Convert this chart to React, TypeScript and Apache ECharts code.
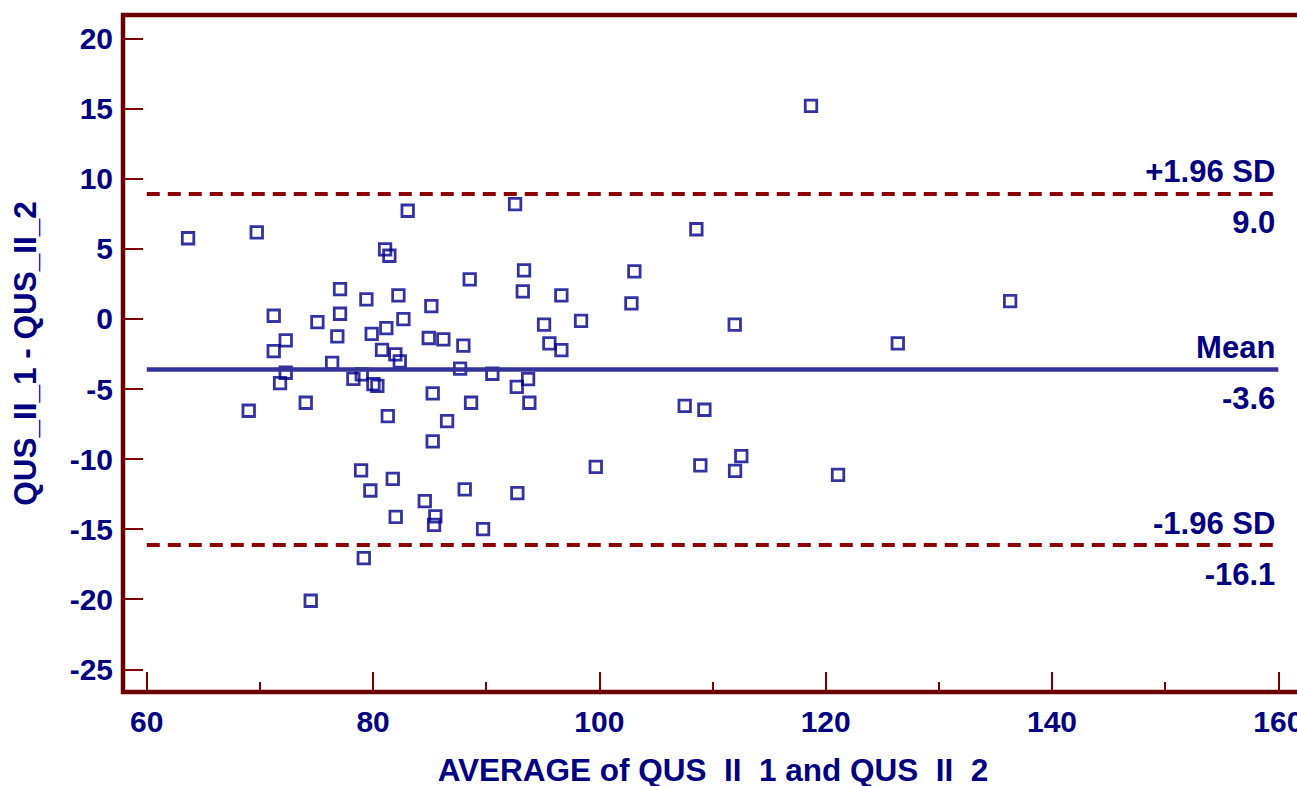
import React, { useEffect, useRef } from "react";
import * as echarts from "echarts";

// Bland-Altman data: [average, difference]
const averages: number[] = [
  63.65, 69.72, 69.01, 71.22, 71.22, 72.28, 71.78, 72.28, 74.05, 75.08,
  76.38, 76.84, 77.08, 77.08, 78.26, 79.0, 79.41, 79.88, 80.03, 80.38,
  80.79, 81.06, 81.44, 81.17, 81.3, 81.97, 82.36, 82.24, 82.68, 83.06,
  84.92, 85.15, 85.27, 86.21, 86.54, 87.69, 87.98, 88.54, 88.66, 85.27,
  78.94, 81.74, 79.76, 88.1, 92.75, 84.57, 82.0, 85.5, 85.39, 89.72,
  79.18, 74.49, 92.55, 93.34, 93.23, 103.09, 102.83, 96.64, 95.11, 98.38,
  95.58, 96.64, 90.54, 93.7, 92.7, 93.81, 99.68, 108.57, 111.96, 126.37,
  107.54, 109.28, 108.92, 112.54, 111.99, 121.09, 118.7, 136.3,
];
const differences: number[] = [
  5.76, 6.18, -6.55, 0.23, -2.29, -1.53, -4.58, -3.84, -5.98, -0.22,
  -3.13, -1.24, 2.13, 0.37, -4.27, -3.95, 1.4, -1.06, -4.65, -4.77,
  -2.2, 4.97, 4.51, -0.65, -6.93, -2.53, -3.03, 1.68, -0.01, 7.72,
  -1.36, 0.92, -5.31, -1.46, -7.29, -3.55, -1.91, 2.83, -5.98, -8.74,
  -10.81, -11.41, -12.24, -12.16, -12.43, -13.0, -14.12, -14.09, -14.69, -15.0,
  -17.07, -20.11, 8.2, 3.47, 1.97, 3.4, 1.11, 1.68, -0.41, -0.13,
  -1.74, -2.22, -3.91, -4.29, -4.84, -5.98, -10.55, 6.4, -0.41, -1.74,
  -6.2, -6.48, -10.45, -9.79, -10.84, -11.12, 15.2, 1.27,
];

const limitValues: number[] = [8.96, -3.57, -16.1];
const limitNames: string[] = ["+1.96 SD", "Mean", "-1.96 SD"];
const limitTexts: string[] = ["9.0", "-3.6", "-16.1"];
const lineStart = 60;
const lineEnd = 160;

const xLabelValues: number[] = [60, 80, 100, 120, 140, 160];
const xMinorValues: number[] = [70, 90, 110, 130, 150];
const yTickValues: number[] = [-25, -20, -15, -10, -5, 0, 5, 10, 15, 20];

const NAVY = "#000080";
const FONT = "'Liberation Sans', Arial, sans-serif";

export default function App() {
  const ref = useRef<HTMLDivElement>(null);
  useEffect(() => {
    if (!ref.current) return;
    const chart = echarts.init(ref.current, null, { renderer: "svg" });

    const labelFont = {
      color: NAVY,
      fontSize: 30,
      fontWeight: "bold",
      fontFamily: FONT,
    };
    const titleFont = { ...labelFont, fontSize: 31.5 };
    const limitFont = { ...labelFont, fontSize: 31 };

    const markData: any[] = [];
    limitValues.forEach((v, i) => {
      const isMean = i === 1;
      const ls = isMean
        ? { type: "solid", color: "#333399", width: 4.5 }
        : { type: [13, 8], color: "#8b0000", width: 4 };
      markData.push([
        {
          coord: [lineStart, v],
          lineStyle: ls,
          label: {
            show: true,
            formatter: limitNames[i],
            position: "insideEndTop",
            distance: [3, 6],
            ...limitFont,
          },
        },
        { coord: [lineEnd, v] },
      ]);
      markData.push([
        {
          coord: [lineStart, v],
          lineStyle: { type: "solid", color: "rgba(0,0,0,0)", width: 0 },
          label: {
            show: true,
            formatter: limitTexts[i],
            position: "insideEndBottom",
            distance: [3, 14],
            ...limitFont,
          },
        },
        { coord: [lineEnd, v] },
      ]);
    });

    const option: any = {
      animation: false,
      backgroundColor: "#ffffff",
      grid: {
        left: 123,
        top: 15,
        width: 1180,
        bottom: 94,
        show: true,
        borderColor: "#6b0000",
        borderWidth: 4.5,
        backgroundColor: "transparent",
        containLabel: false,
        outerBoundsMode: "none",
      },
      xAxis: [
        {
          type: "value",
          min: 57.9,
          max: 162.18,
          position: "bottom",
          axisLine: { show: false, onZero: false },
          splitLine: { show: false },
          axisTick: {
            show: true,
            inside: true,
            length: 20,
            customValues: xLabelValues,
            lineStyle: { color: "#800000", width: 2 },
          },
          axisLabel: {
            show: true,
            customValues: xLabelValues,
            margin: 14,
            ...labelFont,
          },
          name: "AVERAGE of QUS  II  1 and QUS  II  2",
          nameLocation: "middle",
          nameGap: 62,
          nameTextStyle: { ...titleFont },
        },
        {
          type: "value",
          min: 57.9,
          max: 162.18,
          position: "bottom",
          axisLine: { show: false, onZero: false },
          splitLine: { show: false },
          axisTick: {
            show: true,
            inside: true,
            length: 10,
            customValues: xMinorValues,
            lineStyle: { color: "#800000", width: 2 },
          },
          axisLabel: { show: false },
        },
      ],
      yAxis: {
        type: "value",
        min: -26.62,
        max: 21.69,
        axisLine: { show: false, onZero: false },
        splitLine: { show: false },
        axisTick: {
          show: true,
          inside: true,
          length: 20,
          customValues: yTickValues,
          lineStyle: { color: "#800000", width: 2 },
        },
        axisLabel: {
          show: true,
          customValues: yTickValues,
          margin: 10,
          ...labelFont,
        },
        name: "QUS_II_1 - QUS_II_2",
        nameLocation: "middle",
        nameGap: 82,
        nameTextStyle: { ...titleFont },
      },
      series: [
        {
          type: "scatter",
          xAxisIndex: 0,
          yAxisIndex: 0,
          symbol: "rect",
          symbolSize: 11.5,
          itemStyle: {
            color: "rgba(255,255,255,0)",
            borderColor: "#00008b",
            borderWidth: 2.8,
          },
          data: averages.map((a, i) => [a, differences[i]]),
          z: 3,
          markLine: {
            silent: true,
            symbol: ["none", "none"],
            animation: false,
            data: markData,
            z: 4,
          },
        },
      ],
    };
    chart.setOption(option);
    return () => chart.dispose();
  }, []);

  return (
    <div
      ref={ref}
      style={{
        position: "fixed",
        left: 0,
        top: 0,
        width: 1297,
        height: 786,
        background: "#ffffff",
      }}
    />
  );
}
